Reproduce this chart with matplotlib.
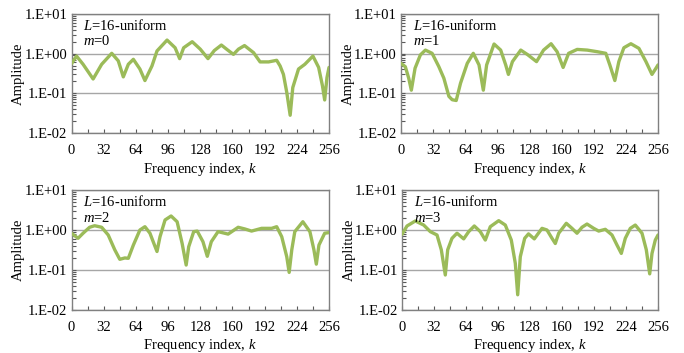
import matplotlib
matplotlib.use('Agg')
import matplotlib.pyplot as plt
from matplotlib.ticker import LogLocator, NullFormatter

plt.rcParams['font.family'] = ['Liberation Serif', 'DejaVu Serif']
plt.rcParams['mathtext.fontset'] = 'custom'
plt.rcParams['mathtext.rm'] = 'Liberation Serif'
plt.rcParams['mathtext.it'] = 'Liberation Serif:italic'

# ---- data ----
k_m0 = [0, 5, 11.5, 21.5, 30, 40, 46.5, 51.5, 56.5, 61.5, 68, 73, 80, 85, 95, 103, 107.5, 111.5,
        120, 128, 135.7, 142, 149, 155, 161, 166, 172, 181, 187.5, 196, 204, 207.4, 210.7, 214,
        217.4, 220, 225.7, 232, 240, 245.7, 249.5, 251.7, 254, 256]
a_m0 = [0.56, 0.87, 0.54, 0.23, 0.54, 1.02, 0.66, 0.26, 0.54, 0.72, 0.41, 0.21, 0.49, 1.17, 2.2,
        1.41, 0.75, 1.41, 2.0, 1.3, 0.75, 1.2, 1.65, 1.25, 0.96, 1.3, 1.6, 1.06, 0.62, 0.62, 0.68,
        0.49, 0.30, 0.106, 0.028, 0.14, 0.41, 0.54, 0.87, 0.45, 0.155, 0.068, 0.25, 0.45]

k_m1 = [0, 4.3, 7.7, 10.3, 14, 19.3, 24.3, 31, 37.7, 42.7, 47.7, 51, 55, 59.3, 66, 72, 77.7, 82,
        85.3, 92.7, 99.3, 104.3, 107, 111, 119.3, 126, 135, 142, 149.5, 155.5, 161.5, 167, 175.5,
        185.5, 195.5, 204, 208, 213, 217, 222, 229, 237, 244, 250, 254, 256]
a_m1 = [0.57, 0.47, 0.24, 0.12, 0.43, 0.93, 1.23, 1.02, 0.47, 0.24, 0.084, 0.069, 0.066, 0.18,
        0.57, 1.02, 0.52, 0.12, 0.52, 1.75, 1.23, 0.52, 0.30, 0.63, 1.23, 0.95, 0.63, 1.23, 1.78,
        1.12, 0.45, 1.02, 1.28, 1.23, 1.12, 1.02, 0.52, 0.21, 0.63, 1.41, 1.78, 1.36, 0.63, 0.30,
        0.43, 0.52]

k_m2 = [0, 6.5, 11.5, 18, 23, 30, 36.5, 43, 48, 53, 56.5, 61.5, 68, 73, 78, 82.5, 85, 88, 93, 99,
        105, 110, 114, 116.5, 121.5, 125, 130.7, 135, 139, 145.7, 155.7, 165.7, 172.4, 179, 189,
        199, 204, 209, 214, 216.4, 219, 222, 230, 237, 241, 243.4, 246, 251.7, 256]
a_m2 = [0.83, 0.62, 0.83, 1.17, 1.28, 1.17, 0.75, 0.32, 0.185, 0.20, 0.196, 0.42, 1.0, 1.21, 0.83,
        0.42, 0.29, 0.68, 1.78, 2.24, 1.61, 0.46, 0.133, 0.38, 0.91, 0.94, 0.51, 0.22, 0.51, 0.91,
        0.79, 1.17, 1.06, 0.94, 1.1, 1.1, 1.21, 0.68, 0.215, 0.087, 0.32, 0.91, 1.61, 0.91, 0.32,
        0.14, 0.42, 0.83, 0.86]

k_m3 = [0, 5, 13.3, 21.7, 28.3, 35, 39.3, 43.3, 45.7, 50, 55, 61.7, 66.7, 72.3, 78.3, 83.3, 88.3,
        96.7, 103.3, 109.3, 113.3, 115.7, 118.3, 122.7, 126.5, 132.3, 140, 145, 150, 153.3, 156.7,
        164.3, 170, 175, 180, 185, 191.7, 196.7, 203.3, 210, 215, 219.3, 223.3, 228.3, 233.3, 240,
        244.3, 247.7, 250, 253.3, 256]
a_m3 = [0.78, 1.26, 1.68, 1.33, 0.91, 0.75, 0.32, 0.075, 0.32, 0.62, 0.83, 0.60, 0.91, 1.26, 0.91,
        0.56, 1.21, 1.71, 1.33, 0.56, 0.147, 0.024, 0.215, 0.62, 0.8, 0.60, 1.1, 1.0, 0.62, 0.46,
        0.83, 1.47, 1.1, 0.83, 1.17, 1.41, 1.1, 0.94, 1.04, 0.75, 0.42, 0.26, 0.62, 1.1, 1.33, 0.83,
        0.32, 0.08, 0.26, 0.56, 0.75]

series = [(k_m0, a_m0, 0), (k_m1, a_m1, 1), (k_m2, a_m2, 2), (k_m3, a_m3, 3)]
y_ticks = [0.01, 0.1, 1, 10]
y_tick_labels = ['1.E-02', '1.E-01', '1.E+00', '1.E+01']
x_ticks = [0, 32, 64, 96, 128, 160, 192, 224, 256]

W, H = 684, 353
fig = plt.figure(figsize=(W / 100, H / 100), dpi=100)
boxes = [(71.5, 14, 329, 133), (401, 14, 658, 133), (71.5, 190, 329, 310), (402, 190, 658, 310)]
xlabel_y = [-0.31, -0.31, -0.30, -0.30]

line_color = '#9BBB59'
fs = 10.5
for i, ((k, a, m), (l, t, r, b)) in enumerate(zip(series, boxes)):
    ax = fig.add_axes([l / W, 1 - b / H, (r - l) / W, (b - t) / H])
    ax.set_yscale('log')
    ax.set_ylim(0.01, 10)
    ax.set_xlim(0, 256)
    ax.set_yticks(y_ticks)
    ax.set_yticklabels(y_tick_labels)
    ax.yaxis.set_minor_locator(LogLocator(base=10, subs=range(2, 10)))
    ax.yaxis.set_minor_formatter(NullFormatter())
    ax.set_xticks(x_ticks)
    ax.set_xticks(range(16, 257, 32), minor=True)
    ax.tick_params(axis='both', which='both', direction='in', length=3, width=0.8,
                   color='#595959', labelsize=fs)
    ax.tick_params(axis='x', which='major', pad=8)
    ax.tick_params(axis='y', which='major', pad=3)
    for s in ax.spines.values():
        s.set_color('#808080')
        s.set_linewidth(1)
    ax.grid(True, axis='y', which='major', color='#a6a6a6', linewidth=1)
    ax.set_axisbelow(True)
    ax.plot(k, a, color=line_color, lw=2.4, solid_joinstyle='round', solid_capstyle='round',
            clip_on=True, zorder=3)
    ax.text(0.045, 0.905, '$L$=16-uniform', transform=ax.transAxes, fontsize=fs, va='center')
    ax.text(0.045, 0.77, '$m$=%d' % m, transform=ax.transAxes, fontsize=fs, va='center')
    ax.set_xlabel('Frequency index, $k$', fontsize=fs)
    ax.xaxis.set_label_coords(0.5, xlabel_y[i])
    ax.xaxis.label.set_va('center')
    ax.set_ylabel('Amplitude', fontsize=fs)
    ax.yaxis.set_label_coords(-0.205, 0.5)
    ax.yaxis.label.set_va('center')

fig.savefig('out.png', dpi=100)
